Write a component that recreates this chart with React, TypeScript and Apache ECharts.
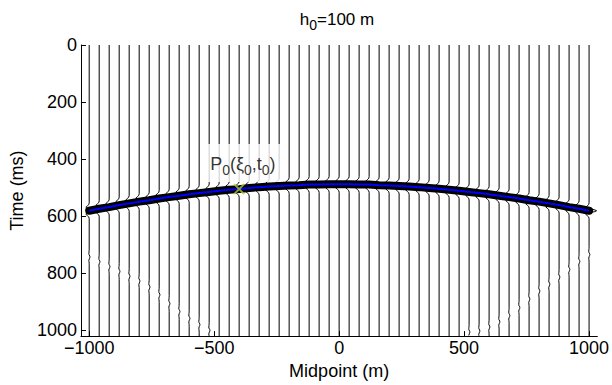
import React, { useEffect, useRef } from "react";
import * as echarts from "echarts";

// Midpoint of every trace (m)
const MIDPOINTS = [
  -1000, -960, -920, -880, -840, -800, -760, -720, -680, -640, -600, -560, -520,
  -480, -440, -400, -360, -320, -280, -240, -200, -160, -120, -80, -40, 0,
  40, 80, 120, 160, 200, 240, 280, 320, 360, 400, 440, 480, 520, 560, 600,
  640, 680, 720, 760, 800, 840, 880, 920, 960, 1000,
];
// Two-way time of the reflection at each trace (ms)
const EVENT_T = [
  582, 575, 569, 562, 556, 550, 545, 539, 534, 529, 524, 520, 516,
  512, 508, 506, 502, 499, 497, 495, 493, 492, 490, 490, 489, 489,
  489, 490, 490, 492, 493, 495, 497, 499, 502, 505, 508, 512, 516, 520, 524,
  529, 534, 539, 545, 550, 556, 562, 569, 575, 582,
];
// Time of the faint deeper diffraction (ms), null where absent
const DIFF_T = [
  744, 761, 778, 795, 812, 829, 850, 877, 908, 936, 960, 982, 1002,
  null, null, null, null, null, null, null, null, null, null, null, null, null,
  null, null, null, null, null, null, null, null, null, null, null, null, 1008, 1004, 990,
  972, 950, 922, 892, 864, 840, 815, 788, 760, 736,
];
// Wavelet shape: time offsets (ms) and normalised amplitudes
const WAVELET_DT = [-28, -22, -17, -12, -8, -6, -3, 0, 3, 6, 8, 12, 17, 22, 28];
const WAVELET_A = [0, -0.05, -0.25, -0.45, -0.24, 0.24, 0.77, 1, 0.77, 0.24, -0.24, -0.45, -0.25, -0.05, 0];
const EVENT_AMP = 30; // m per unit amplitude
const DIFF_AMP = 3;

const X_TICKS = [-1000, -500, 0, 500, 1000];
const Y_TICKS = [0, 200, 400, 600, 800, 1000];
const X_RANGE = [-1033, 1033];
const Y_RANGE = [0, 1022];

const P0_POINT = [-400, 506];
const P0_LABEL_POS = [-385, 414];
const TITLE_MAIN = "h";
const TITLE_SUB = "0";
const TITLE_REST = "=100 m";
const X_NAME = "Midpoint (m)";
const Y_NAME = "Time (ms)";

const FONT = "Liberation Sans, Arial, Helvetica, sans-serif";

function buildTrace(i: number): number[][] {
  const x = MIDPOINTS[i];
  const pts: number[][] = [[x, Y_RANGE[0]]];
  const te = EVENT_T[i];
  for (let k = 0; k < WAVELET_DT.length; k++) {
    pts.push([x + EVENT_AMP * WAVELET_A[k], te + WAVELET_DT[k]]);
  }
  const td = DIFF_T[i];
  if (td !== null && td !== undefined) {
    for (let k = 0; k < WAVELET_DT.length; k++) {
      const t = td + WAVELET_DT[k];
      if (t <= Y_RANGE[1]) pts.push([x + DIFF_AMP * WAVELET_A[k], t]);
    }
  }
  pts.push([x, Y_RANGE[1]]);
  return pts;
}

export default function App() {
  const ref = useRef<HTMLDivElement>(null);
  useEffect(() => {
    if (!ref.current) return;
    const chart = echarts.init(ref.current, null, { renderer: "svg" });

    const traceSeries = MIDPOINTS.map((_, i) => ({
      type: "line",
      data: buildTrace(i),
      showSymbol: false,
      silent: true,
      z: 2,
      lineStyle: { color: "#000", width: 1 },
    }));

    const curve = MIDPOINTS.map((x, i) => [x, EVENT_T[i]]);

    const option: any = {
      animation: false,
      backgroundColor: "#fff",
      textStyle: { fontFamily: FONT },
      grid: { left: 75, right: 12, top: 45, bottom: 42, containLabel: false },
      xAxis: {
        type: "value",
        min: X_RANGE[0],
        max: X_RANGE[1],
        position: "bottom",
        name: X_NAME,
        nameLocation: "middle",
        nameGap: 18,
        nameTextStyle: { fontSize: 18, color: "#000", fontFamily: FONT },
        splitLine: { show: false },
        axisLine: { show: true, onZero: false, lineStyle: { color: "#000", width: 1 } },
        axisTick: { show: true, inside: true, length: 5, customValues: X_TICKS, lineStyle: { color: "#000" } },
        axisLabel: {
          show: true,
          customValues: X_TICKS,
          margin: 3,
          fontSize: 18,
          color: "#000",
          fontFamily: FONT,
          formatter: (v: number) => (v < 0 ? "\u2212" + Math.abs(v) : String(v)),
        },
      },
      yAxis: {
        type: "value",
        inverse: true,
        min: Y_RANGE[0],
        max: Y_RANGE[1],
        name: Y_NAME,
        nameLocation: "middle",
        nameGap: 48,
        nameTextStyle: { fontSize: 18, color: "#000", fontFamily: FONT },
        splitLine: { show: false },
        axisLine: { show: true, onZero: false, lineStyle: { color: "#000", width: 1 } },
        axisTick: { show: true, inside: true, length: 5, customValues: Y_TICKS, lineStyle: { color: "#000" } },
        axisLabel: {
          show: true,
          customValues: Y_TICKS,
          margin: 4,
          fontSize: 18,
          color: "#000",
          fontFamily: FONT,
          formatter: (v: number) => String(v),
        },
      },
      graphic: [
        {
          type: "text",
          x: 337,
          y: 6,
          style: {
            text: `{a|${TITLE_MAIN}}{s|${TITLE_SUB}}{a|${TITLE_REST}}`,
            align: "center",
            verticalAlign: "top",
            fill: "#000",
            rich: {
              a: { fontSize: 17, fontFamily: FONT, fill: "#000", color: "#000" },
              s: { fontSize: 14, fontFamily: FONT, fill: "#000", color: "#000", padding: [12, 0, 0, 0] },
            },
          },
        },
      ],
      series: [
        ...traceSeries,
        {
          type: "line",
          data: curve,
          showSymbol: false,
          silent: true,
          z: 3,
          lineStyle: { color: "#000", width: 8, cap: "round", join: "round" },
        },
        {
          type: "line",
          data: curve,
          showSymbol: false,
          silent: true,
          z: 4,
          lineStyle: { color: "#0000ff", width: 2, cap: "butt" },
        },
        {
          type: "scatter",
          data: [P0_POINT],
          symbol: "path://M0 0L10 10M10 0L0 10",
          symbolSize: 10,
          silent: true,
          z: 5,
          itemStyle: { color: "none", borderColor: "#b0c832", borderWidth: 2 },
        },
        {
          type: "scatter",
          data: [P0_LABEL_POS],
          symbol: "circle",
          symbolSize: 0,
          silent: true,
          z: 6,
          itemStyle: { color: "transparent" },
          label: {
            show: true,
            position: "inside",
            backgroundColor: "#fff",
            padding: [7, 5, 5, 5],
            formatter: "{a|P}{s|0}{a|(ξ}{s|0}{a|,t}{s|0}{a|)}",
            rich: {
              a: { fontSize: 18, fontFamily: FONT, color: "#000" },
              s: { fontSize: 14, fontFamily: FONT, color: "#000", padding: [12, 0, 0, 0] },
            },
          },
        },
      ],
    };
    chart.setOption(option);
    return () => chart.dispose();
  }, []);
  return <div ref={ref} style={{ width: 612, height: 385, position: "absolute", left: 0, top: 0 }} />;
}
